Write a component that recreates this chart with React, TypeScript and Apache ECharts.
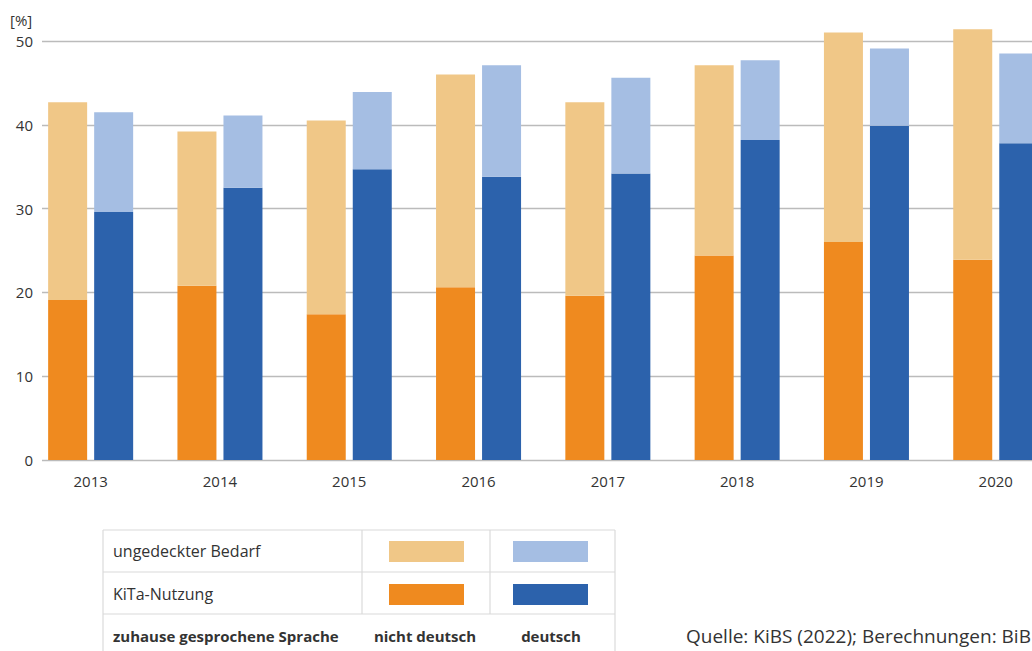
import React, { useEffect, useRef } from "react";
import * as echarts from "echarts";

const years = ["2013", "2014", "2015", "2016", "2017", "2018", "2019", "2020"];
// KiTa-Nutzung (%)
const kitaNichtDeutsch = [19.1, 20.8, 17.4, 20.6, 19.6, 24.4, 26.0, 23.9];
const kitaDeutsch = [29.6, 32.5, 34.7, 33.8, 34.2, 38.2, 39.9, 37.8];
// Gesamtbedarf (%) = KiTa-Nutzung + ungedeckter Bedarf
const bedarfNichtDeutsch = [42.7, 39.2, 40.5, 46.0, 42.7, 47.1, 51.0, 51.4];
const bedarfDeutsch = [41.5, 41.1, 43.9, 47.1, 45.6, 47.7, 49.1, 48.5];
const yTicks = [0, 10, 20, 30, 40, 50];

const legendRows = ["ungedeckter Bedarf", "KiTa-Nutzung"];
const legendFooter = ["zuhause gesprochene Sprache", "nicht deutsch", "deutsch"];
const sourceText = "Quelle: KiBS (2022); Berechnungen: BiB";

const C_ORANGE = "#EF8A1F";
const C_ORANGE_L = "#F0C787";
const C_BLUE = "#2C62AC";
const C_BLUE_L = "#A5BEE3";
const FONT = "Open Sans";

export default function App() {
  const ref = useRef<HTMLDivElement>(null);
  useEffect(() => {
    if (!ref.current) return;
    const chart = echarts.init(ref.current, undefined, { renderer: "svg" });
    const gapND = bedarfNichtDeutsch.map((v, i) => +(v - kitaNichtDeutsch[i]).toFixed(1));
    const gapD = bedarfDeutsch.map((v, i) => +(v - kitaDeutsch[i]).toFixed(1));

    const border = "#DADADA";
    const tx0 = 103, tx1 = 362, tx2 = 490, tx3 = 615;
    const ty0 = 530, ty1 = 572, ty2 = 614, ty3 = 660;
    const line = (x1: number, y1: number, x2: number, y2: number) => ({
      type: "line",
      shape: { x1, y1, x2, y2 },
      style: { stroke: border, lineWidth: 1.2 },
    });
    const txt = (text: string, x: number, y: number, opts: any = {}) => ({
      type: "text",
      x,
      y,
      style: {
        text,
        fill: "#333",
        font: `${opts.bold ? "bold " : ""}${opts.size || 14}px '${FONT}'`,
        textAlign: opts.align || "left",
        textVerticalAlign: "middle",
      },
    });
    const sw = (x: number, y: number, color: string) => ({
      type: "rect",
      shape: { x, y, width: 75, height: 21 },
      style: { fill: color },
    });

    chart.setOption({
      animation: false,
      backgroundColor: "#fff",
      textStyle: { fontFamily: FONT },
      grid: [
        { left: 42, top: 41, height: 419, right: -30, outerBoundsMode: "none", containLabel: false },
        { left: 26, top: 41, height: 419, width: 1034.4, outerBoundsMode: "none", containLabel: false },
      ],
      xAxis: [
        { type: "value", gridIndex: 0, min: 0, max: 1, show: false },
        {
          type: "category",
          gridIndex: 1,
          data: years,
          axisLine: { show: false },
          axisTick: { show: false },
          axisLabel: { color: "#333", fontSize: 15, margin: 13, fontFamily: FONT },
        },
      ],
      yAxis: [
        {
          type: "value",
          gridIndex: 0,
          min: yTicks[0],
          max: yTicks[yTicks.length - 1],
          interval: 10,
          axisLine: { show: false },
          axisTick: { show: false },
          axisLabel: { color: "#333", fontSize: 15, margin: 9, fontFamily: FONT },
          splitLine: { lineStyle: { color: "#BBBBBB", width: 1.4 } },
        },
        { type: "value", gridIndex: 1, min: 0, max: 50, show: false },
      ],
      series: [
        { type: "bar", name: "KiTa-Nutzung nicht deutsch", xAxisIndex: 1, yAxisIndex: 1, stack: "nd", data: kitaNichtDeutsch, itemStyle: { color: C_ORANGE }, barWidth: 39, barGap: "18%", clip: false },
        { type: "bar", name: "ungedeckter Bedarf nicht deutsch", xAxisIndex: 1, yAxisIndex: 1, stack: "nd", data: gapND, itemStyle: { color: C_ORANGE_L }, barWidth: 39, barGap: "18%", clip: false },
        { type: "bar", name: "KiTa-Nutzung deutsch", xAxisIndex: 1, yAxisIndex: 1, stack: "d", data: kitaDeutsch, itemStyle: { color: C_BLUE }, barWidth: 39, barGap: "18%", clip: false },
        { type: "bar", name: "ungedeckter Bedarf deutsch", xAxisIndex: 1, yAxisIndex: 1, stack: "d", data: gapD, itemStyle: { color: C_BLUE_L }, barWidth: 39, barGap: "18%", clip: false },
      ],
      graphic: [
        txt("[%]", 10, 20, { size: 15 }),
        line(tx0, ty0, tx3, ty0),
        line(tx0, ty1, tx3, ty1),
        line(tx0, ty2, tx3, ty2),
        line(tx0, ty0, tx0, ty3),
        line(tx3, ty0, tx3, ty3),
        line(tx1, ty0, tx1, ty2),
        line(tx2, ty0, tx2, ty2),
        txt(legendRows[0], 113, 551, { size: 16 }),
        txt(legendRows[1], 113, 594, { size: 16 }),
        sw(389, 541, C_ORANGE_L),
        sw(513, 541, C_BLUE_L),
        sw(389, 584, C_ORANGE),
        sw(513, 584, C_BLUE),
        txt(legendFooter[0], 113, 636, { bold: true, size: 15 }),
        txt(legendFooter[1], 425, 636, { bold: true, size: 15, align: "center" }),
        txt(legendFooter[2], 551, 636, { bold: true, size: 15, align: "center" }),
        txt(sourceText, 686, 636, { size: 19 }),
      ],
    });
    return () => chart.dispose();
  }, []);
  return (
    <div
      ref={ref}
      style={{ position: "absolute", left: 0, top: 0, width: 1032, height: 651 }}
    />
  );
}
